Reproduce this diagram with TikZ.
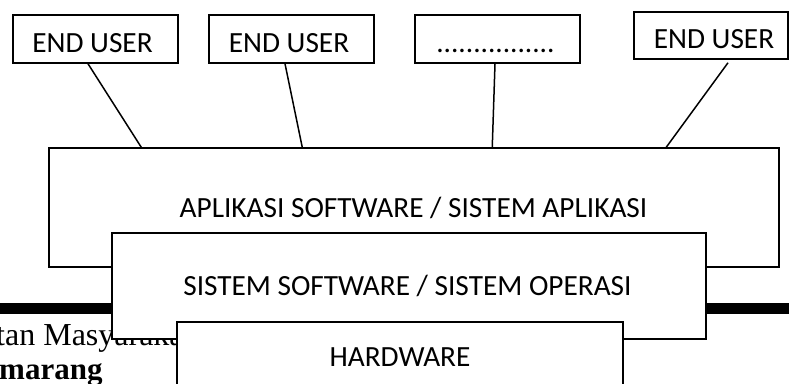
\documentclass[tikz,border=0pt]{standalone}
\usepackage{fontspec}
\setmainfont{Carlito}
\newfontfamily\bgserif{Liberation Serif}
\begin{document}
\begin{tikzpicture}[x=1pt,y=1pt,
  box/.style={draw=black, fill=white, line width=1.5pt, rectangle, inner sep=0pt},
  lbl/.style={inner sep=0pt, anchor=base, font=\fontsize{29.3}{31}\selectfont},
  conn/.style={draw=black, line width=1.5pt},
  bgtext/.style={inner sep=0pt, anchor=base west, font=\bgserif\fontsize{32}{34}\selectfont}]
\useasboundingbox (0,0) rectangle (789,-383);
\clip (0,0) rectangle (789,-383);
% page artefacts behind the diagram
\fill[black] (0,-303) rectangle (789,-314);
\node[bgtext] (bg1) at (-4,-345) {tan Masyarakat};
\node[bgtext, font=\bgserif\bfseries\fontsize{31}{33}\selectfont] (bg2) at (-1,-379) {marang};
% end user boxes
\node[box, minimum width=165pt, minimum height=48pt] (u1) at (95.5,-39) {};
\node[box, minimum width=165pt, minimum height=48pt] (u2) at (291.5,-39) {};
\node[box, minimum width=165pt, minimum height=48pt] (u3) at (497.5,-39) {};
\node[box, minimum width=154pt, minimum height=47pt] (u4) at (711,-35.5) {};
\node[lbl] (t1) at (92.5,-52) {END USER};
\node[lbl] (t2) at (289,-52) {END USER};
\node[lbl] (t3) at (495.5,-52) {................};
\node[lbl] (t4) at (714,-48) {END USER};
% layers
\node[box, minimum width=730pt, minimum height=119pt] (app) at (414,-207.5) {};
\node[lbl] (tapp) at (413.5,-217) {APLIKASI SOFTWARE / SISTEM APLIKASI};
\node[box, minimum width=594pt, minimum height=106pt] (sys) at (409,-286) {};
\node[lbl] (tsys) at (407.5,-295) {SISTEM SOFTWARE / SISTEM OPERASI};
\node[box, minimum width=446pt, minimum height=98pt] (hw) at (400,-371) {};
\node[lbl] (thw) at (400,-366) {HARDWARE};
% connectors
\draw[conn] ([xshift=-7.5pt]u1.south) -- ([xshift=93pt]app.north west);
\draw[conn] ([xshift=-6.5pt]u2.south) -- ([xshift=254pt]app.north west);
\draw[conn] ([xshift=-2.5pt]u3.south) -- ([xshift=444pt]app.north west);
\draw[conn] ([xshift=17pt,yshift=-3pt]u4.south) -- ([xshift=618pt]app.north west);
\end{tikzpicture}
\end{document}
